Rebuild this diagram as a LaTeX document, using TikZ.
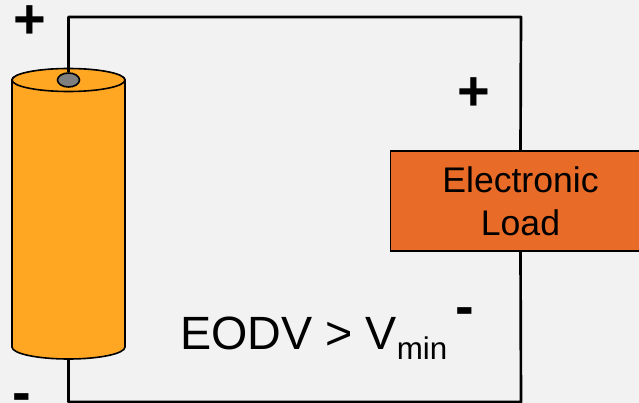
\documentclass[tikz,border=0pt]{standalone}
\usepackage{fontspec}
\setmainfont{Liberation Sans}
\usetikzlibrary{shapes.geometric}
\definecolor{cellfill}{HTML}{FFA722}
\definecolor{loadfill}{HTML}{E86B28}
\definecolor{bgfill}{HTML}{F2F2F2}
\definecolor{termfill}{HTML}{7F7F7F}
\newcommand{\dashsign}{\raisebox{-12.5pt}[0pt][0pt]{-}}

\begin{document}
\begin{tikzpicture}[x=0.75pt,y=-0.75pt,
  wire/.style={black,line width=2pt,line join=round},
  cell/.style={black,line width=1.2pt,fill=cellfill},
  sign/.style={inner sep=0pt,font=\fontsize{42}{42}\selectfont\bfseries}]
\useasboundingbox (0,0) rectangle (639,403);
\fill[bgfill] (0,0) rectangle (639,403);
\coordinate (A) at (521,17);
\coordinate (B) at (68.5,402);
\coordinate (C) at (521,402);
\coordinate (D) at (68.5,359);
% cell
\draw[cell] (12,80) -- (12,347) arc[start angle=180,end angle=0,x radius=56.5,y radius=12] -- (125,80) arc[start angle=0,end angle=-180,x radius=56.5,y radius=11] -- cycle;
\draw[cell] (68.5,80) ellipse [x radius=56.5,y radius=11.5];
\node[draw,ellipse,line width=1.2pt,fill=termfill,minimum width=16.5pt,minimum height=10.5pt,inner sep=0pt] (term) at (68.5,80) {};
% load
\node[draw,black,line width=1.2pt,fill=loadfill,minimum width=195pt,minimum height=75pt,inner sep=0pt,align=center,font=\fontsize{26.7}{32.3}\selectfont] (load) at (520.5,201) {Electronic\\Load};
% wires
\draw[wire] (term.north) |- (A) -- (load.north);
\draw[wire] (load.south) -- (C) -- (B) -- (D);
% labels
\node[sign] (plusa) at (30,22) {+};
\node[sign] (plusb) at (474,94) {+};
\node[sign] (minusa) at (465,309) {\dashsign};
\node[sign] (minusb) at (22,395) {\dashsign};
\node[anchor=base west,inner sep=0pt,font=\fontsize{35}{35}\selectfont] (eodv) at (180,349) {EODV > V{\fontsize{23.5}{24}\selectfont\raisebox{-8pt}{min}}};
\end{tikzpicture}
\end{document}
